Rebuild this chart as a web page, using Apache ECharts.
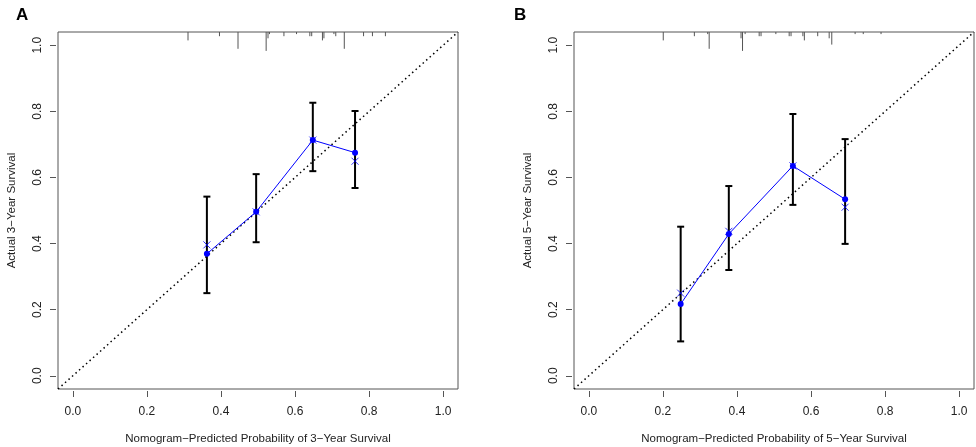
<!DOCTYPE html>
<html>
<head>
<meta charset="utf-8">
<script src="https://cdn.jsdelivr.net/npm/echarts@6/dist/echarts.min.js"></script>
<style>
  html, body { margin: 0; padding: 0; background: #fff; }
  #chart { width: 976px; height: 447px; }
</style>
</head>
<body>
<div id="chart"></div>
<script>
// tick labels shared by both panels
const tickValues = [0, 0.2, 0.4, 0.6, 0.8, 1.0];
const axisMin = -0.04;
const axisMax = 1.04;

// panel A: 3-year
const predA = [0.362, 0.495, 0.648, 0.762];
const obsA = [0.369, 0.496, 0.713, 0.675];
const corrA = [0.396, 0.496, 0.713, 0.649];
const lowA = [0.250, 0.404, 0.619, 0.568];
const highA = [0.542, 0.610, 0.826, 0.801];
const rugXA = [0.311, 0.396, 0.446, 0.522, 0.527, 0.531, 0.570, 0.604, 0.640, 0.645, 0.674, 0.678, 0.705, 0.710, 0.733, 0.785, 0.809, 0.844];
const rugNA = [4, 2, 8, 9, 3, 1, 2, 1, 2, 2, 4, 3, 1, 2, 8, 2, 2, 2];

// panel B: 5-year
const predB = [0.248, 0.378, 0.551, 0.692];
const obsB = [0.217, 0.429, 0.635, 0.534];
const corrB = [0.250, 0.437, 0.635, 0.510];
const lowB = [0.104, 0.320, 0.517, 0.399];
const highB = [0.451, 0.574, 0.792, 0.716];
const rugXB = [0.201, 0.285, 0.321, 0.325, 0.411, 0.415, 0.422, 0.460, 0.465, 0.505, 0.541, 0.546, 0.578, 0.582, 0.618, 0.649, 0.656, 0.719, 0.741, 0.789];
const rugNB = [4, 2, 1, 8, 3, 9, 1, 2, 2, 1, 2, 2, 2, 4, 2, 3, 6, 1, 1, 1];

const xTitles = ['Nomogram\u2212Predicted Probability of 3\u2212Year Survival', 'Nomogram\u2212Predicted Probability of 5\u2212Year Survival'];
const yTitles = ['Actual 3\u2212Year Survival', 'Actual 5\u2212Year Survival'];

const FONT = 'Liberation Sans, Arial, sans-serif';
const AXIS_COLOR = '#555';
const TEXT_COLOR = '#222';

const chart = echarts.init(document.getElementById('chart'));

const zip = (a, b) => a.map((v, i) => [v, b[i]]);

function makeAxis(kind, i) {
  const isX = kind === 'x';
  return {
    type: 'value',
    gridIndex: i,
    min: axisMin,
    max: axisMax,
    offset: 2,
    splitLine: { show: false },
    axisLine: { show: false, onZero: false },
    axisTick: { show: true, length: 6, lineStyle: { color: AXIS_COLOR }, customValues: tickValues },
    axisLabel: {
      customValues: tickValues,
      formatter: v => v.toFixed(1),
      color: TEXT_COLOR,
      fontFamily: FONT,
      fontSize: 12,
      margin: isX ? 15 : 12,
      rotate: isX ? 0 : 90
    },
    name: isX ? xTitles[i] : yTitles[i],
    nameLocation: 'middle',
    nameGap: isX ? 42 : 38,
    nameTextStyle: { color: TEXT_COLOR, fontFamily: FONT, fontSize: 11.5 }
  };
}

function rugItem(params, api) {
  const x = api.value(0);
  const n = api.value(1);
  const top = api.coord([x, axisMax]);
  return {
    type: 'line',
    shape: { x1: top[0], y1: top[1], x2: top[0], y2: top[1] + n * 2.1 },
    style: { stroke: AXIS_COLOR, lineWidth: 1 }
  };
}

function errItem(params, api) {
  const x = api.value(0);
  const lo = api.coord([x, api.value(1)]);
  const hi = api.coord([x, api.value(2)]);
  const w = 3.5;
  const st = { stroke: '#000', lineWidth: 2 };
  return {
    type: 'group',
    children: [
      { type: 'line', shape: { x1: lo[0], y1: lo[1], x2: hi[0], y2: hi[1] }, style: st },
      { type: 'line', shape: { x1: lo[0] - w, y1: lo[1], x2: lo[0] + w, y2: lo[1] }, style: st },
      { type: 'line', shape: { x1: hi[0] - w, y1: hi[1], x2: hi[0] + w, y2: hi[1] }, style: st }
    ]
  };
}

function panelSeries(i, pred, obs, corr, low, high, rugX, rugN) {
  return [
    {
      type: 'line', xAxisIndex: i, yAxisIndex: i, silent: true,
      data: [[axisMin, axisMin], [axisMax, axisMax]],
      symbol: 'none',
      lineStyle: { color: '#000', width: 1.5, type: [1.5, 3.2] },
      z: 1
    },
    {
      type: 'custom', xAxisIndex: i, yAxisIndex: i, silent: true,
      data: pred.map((p, k) => [p, low[k], high[k]]),
      renderItem: errItem,
      z: 2
    },
    {
      type: 'line', xAxisIndex: i, yAxisIndex: i, silent: true,
      data: zip(pred, obs),
      symbol: 'circle', symbolSize: 6,
      itemStyle: { color: '#0000ff' },
      lineStyle: { color: '#0000ff', width: 1 },
      z: 3
    },
    {
      type: 'scatter', xAxisIndex: i, yAxisIndex: i, silent: true,
      data: zip(pred, corr),
      symbol: 'path://M0,0L10,10M10,0L0,10',
      symbolSize: 7,
      itemStyle: { color: 'transparent', borderColor: '#0000ff', borderWidth: 1 },
      z: 4
    },
    {
      type: 'custom', xAxisIndex: i, yAxisIndex: i, silent: true,
      data: zip(rugX, rugN),
      renderItem: rugItem,
      z: 2
    }
  ];
}

const gridBase = { top: 32, width: 400, height: 357, show: true, borderColor: AXIS_COLOR, borderWidth: 1, backgroundColor: 'transparent', containLabel: false, outerBoundsMode: 'none' };

chart.setOption({
  animation: false,
  backgroundColor: '#fff',
  title: [
    { text: 'A', left: 11, top: 2, textStyle: { fontFamily: FONT, fontSize: 17, fontWeight: 'bold', color: '#000' } },
    { text: 'B', left: 509, top: 2, textStyle: { fontFamily: FONT, fontSize: 17, fontWeight: 'bold', color: '#000' } }
  ],
  grid: [
    Object.assign({ left: 58 }, gridBase),
    Object.assign({ left: 574 }, gridBase)
  ],
  xAxis: [makeAxis('x', 0), makeAxis('x', 1)],
  yAxis: [makeAxis('y', 0), makeAxis('y', 1)],
  series: [
    ...panelSeries(0, predA, obsA, corrA, lowA, highA, rugXA, rugNA),
    ...panelSeries(1, predB, obsB, corrB, lowB, highB, rugXB, rugNB)
  ]
});
</script>
</body>
</html>
